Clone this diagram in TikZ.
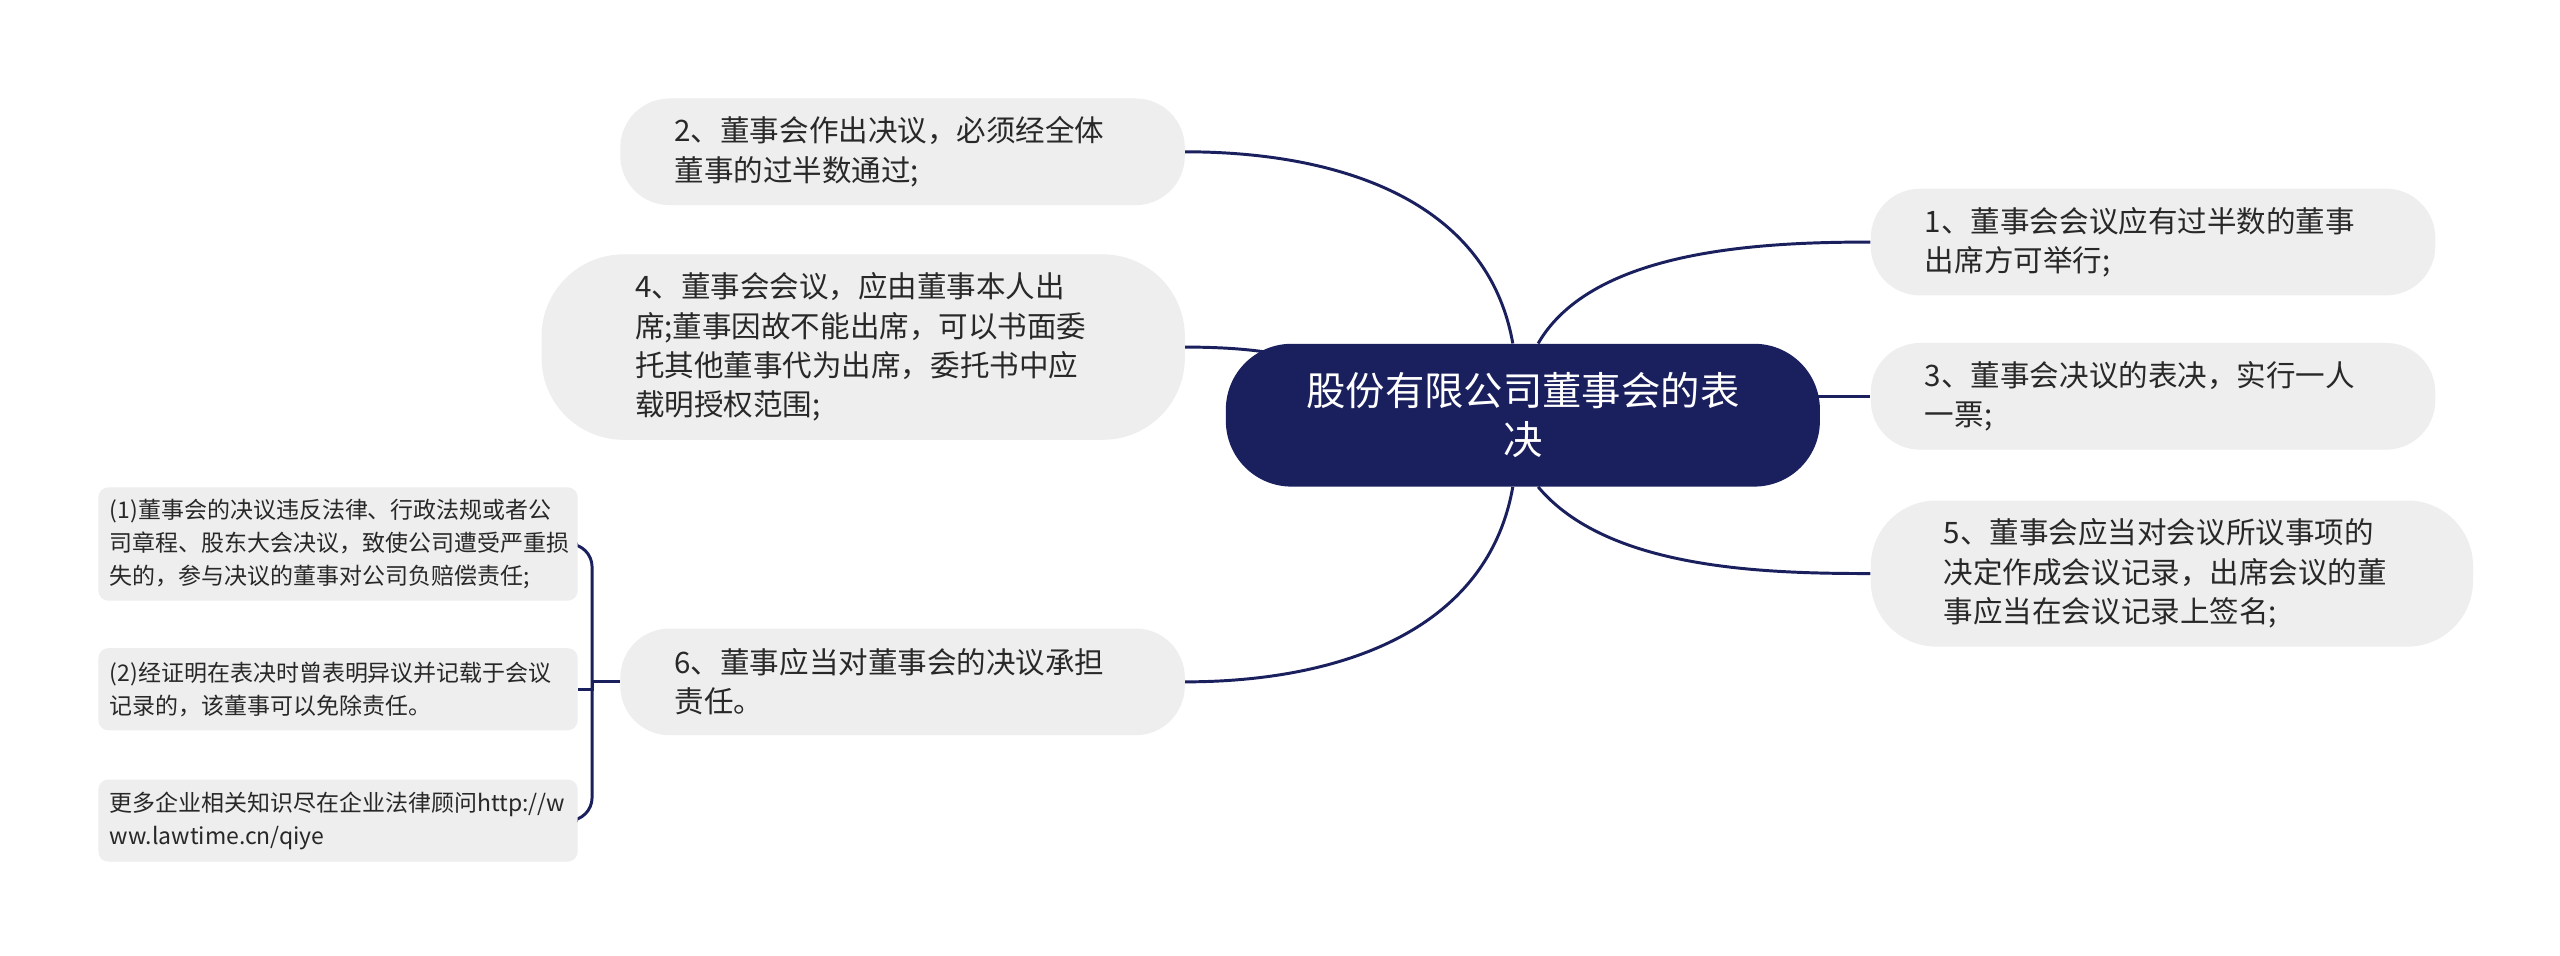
\documentclass[tikz,border=0pt]{standalone}
\usepackage{fontspec}
\setmainfont{Noto Sans CJK SC}
\usetikzlibrary{positioning, backgrounds}
\definecolor{rootcolor}{RGB}{26,31,94}
\definecolor{linecolor}{RGB}{26,31,94}
\definecolor{topicgray}{RGB}{238,238,238}
\definecolor{textgray}{RGB}{40,40,40}

\begin{document}
\begin{tikzpicture}[x=1pt, y=-1pt,
    topic/.style={fill=topicgray, text=textgray, font=\fontsize{18}{24}\selectfont, align=left, text width=278pt,
                  inner sep=0pt, minimum width=344pt, minimum height=65pt, rounded corners=30pt},
    subtopic/.style={fill=topicgray, text=textgray, font=\fontsize{14}{20}\selectfont, align=left, text width=278pt,
                  inner sep=0pt, minimum width=292pt, minimum height=50pt, rounded corners=6pt},
    branch/.style={draw=linecolor, line width=1.8pt}]
    \useasboundingbox (0,0) rectangle (1560,582);

    % Nodo central
    \node[fill=rootcolor, text=white, font=\fontsize{24}{30}\selectfont, align=center, inner sep=0pt,
          minimum width=362pt, minimum height=87pt, rounded corners=40pt] (root) at (928,253)
          {股份有限公司董事会的表\\决};

    % Ramas izquierdas
    \node[topic] (n2) at (550,92.5) {2、董事会作出决议，必须经全体\\董事的过半数通过;};
    \node[topic, minimum width=392pt, minimum height=113pt, rounded corners=50pt] (n4) at (526,211.5)
          {4、董事会会议，应由董事本人出\\席;董事因故不能出席，可以书面委\\托其他董事代为出席，委托书中应\\载明授权范围;};
    \node[topic] (n6) at (550,415.5) {6、董事应当对董事会的决议承担\\责任。};

    % Ramas derechas
    \node[topic] (n1) at (1312,147.5) {1、董事会会议应有过半数的董事\\出席方可举行;};
    \node[topic] (n3) at (1312,241.5) {3、董事会决议的表决，实行一人\\一票;};
    \node[topic, minimum width=367pt, minimum height=89pt, rounded corners=40pt] (n5) at (1323.5,349.5)
          {5、董事会应当对会议所议事项的\\决定作成会议记录，出席会议的董\\事应当在会议记录上签名;};

    % Subtemas
    \node[subtopic, minimum height=69pt] (s1) at (206,331.5)
          {(1)董事会的决议违反法律、行政法规或者公\\司章程、股东大会决议，致使公司遭受严重损\\失的，参与决议的董事对公司负赔偿责任;};
    \node[subtopic] (s2) at (206,420) {(2)经证明在表决时曾表明异议并记载于会议\\记录的，该董事可以免除责任。};
    \node[subtopic] (s3) at (206,500) {更多企业相关知识尽在企业法律顾问http://w\\ww.lawtime.cn/qiye};
    \coordinate[left=17pt of n6.west] (fork);

    % Conexiones
    \begin{scope}[on background layer]
        \fill[white] (0,0) rectangle (1560,582);
        \draw[branch] (root.98) to[out=100, in=0] (n2.east);
        \draw[branch] (n4.east) to[out=0, in=180, looseness=1.5] (root.center);
        \draw[branch] (root.262) to[out=-100, in=0] (n6.east);
        \draw[branch] (root.78) to[out=60, in=180, looseness=0.8] (n1.west);
        \draw[branch] (n3.west) -- (n3.west -| root.center);
        \draw[branch] (root.282) to[out=-50, in=180, looseness=0.8] (n5.west);
        \draw[branch] (n6.west) -- (fork);
        \draw[branch, rounded corners=14pt] (fork) |- (s1.east);
        \draw[branch] (fork) |- (s2.east);
        \draw[branch, rounded corners=14pt] (fork) |- (s3.east);
    \end{scope}
\end{tikzpicture}
\end{document}
